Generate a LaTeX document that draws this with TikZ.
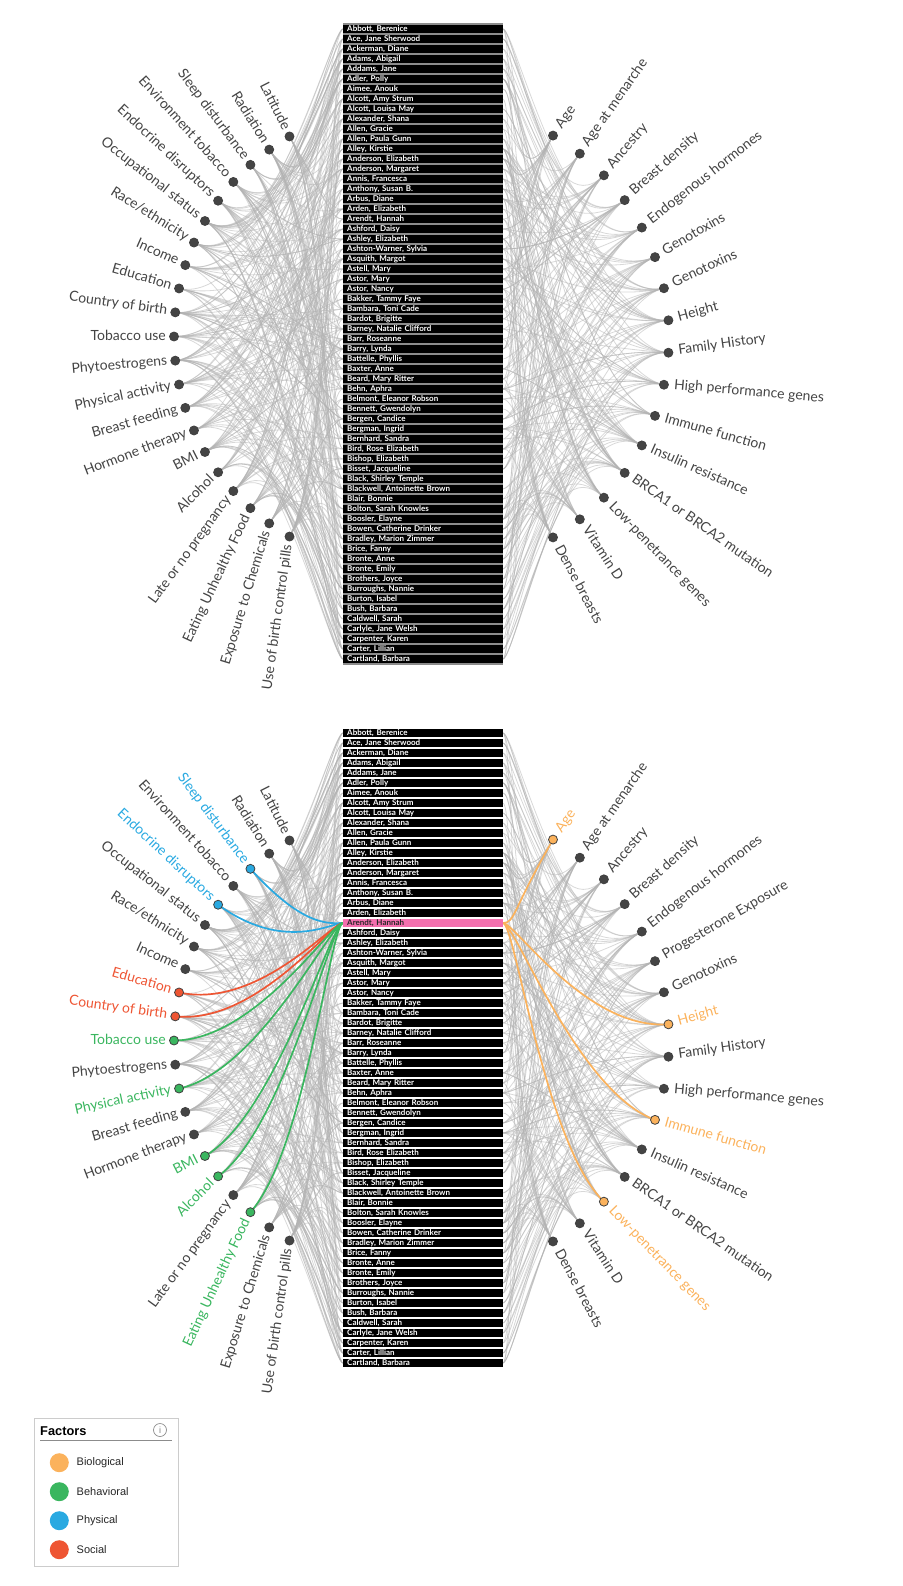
\documentclass[tikz,border=0pt]{standalone}
\usepackage{fontspec}
\setmainfont{Lato}
\newfontfamily\legfont{Liberation Sans}
\usetikzlibrary{calc}

\definecolor{bio}{HTML}{FBB25C}
\definecolor{beh}{HTML}{3AB65F}
\definecolor{phys}{HTML}{29A9E1}
\definecolor{soc}{HTML}{EE5533}
\definecolor{pinkrow}{HTML}{F46FAE}
\definecolor{fac}{HTML}{444444}

\tikzset{
  link/.style={draw=black!30, line width=0.8pt, opacity=0.5},
  hilink/.style={line width=1.7pt},
  namerow/.style={fill=black, text=white, anchor=west, inner xsep=4pt, inner ysep=0pt,
    minimum height=8.5pt, text width=152pt, align=left, text height=5.6pt, text depth=1.4pt,
    font=\bfseries\fontsize{8}{9}\selectfont},
  hirow/.style={fill=pinkrow, text=black!85},
  dot/.style={circle, draw=black!75, line width=0.8pt, inner sep=0pt, minimum size=9pt},
  flab/.style={inner sep=0pt, text height=10pt, text depth=3pt, font=\fontsize{14}{16}\selectfont},
}

\def\namelist{{Abbott, Berenice},{Ace, Jane Sherwood},{Ackerman, Diane},{Adams, Abigail},{Addams, Jane},{Adler, Polly},{Aimee, Anouk},{Alcott, Amy Strum},{Alcott, Louisa May},{Alexander, Shana},{Allen, Gracie},{Allen, Paula Gunn},{Alley, Kirstie},{Anderson, Elizabeth},{Anderson, Margaret},{Annis, Francesca},{Anthony, Susan B.},{Arbus, Diane},{Arden, Elizabeth},{Arendt, Hannah},{Ashford, Daisy},{Ashley, Elizabeth},{Ashton-Warner, Sylvia},{Asquith, Margot},{Astell, Mary},{Astor, Mary},{Astor, Nancy},{Bakker, Tammy Faye},{Bambara, Toni Cade},{Bardot, Brigitte},{Barney, Natalie Clifford},{Barr, Roseanne},{Barry, Lynda},{Battelle, Phyllis},{Baxter, Anne},{Beard, Mary Ritter},{Behn, Aphra},{Belmont, Eleanor Robson},{Bennett, Gwendolyn},{Bergen, Candice},{Bergman, Ingrid},{Bernhard, Sandra},{Bird, Rose Elizabeth},{Bishop, Elizabeth},{Bisset, Jacqueline},{Black, Shirley Temple},{Blackwell, Antoinette Brown},{Blair, Bonnie},{Bolton, Sarah Knowles},{Boosler, Elayne},{Bowen, Catherine Drinker},{Bradley, Marion Zimmer},{Brice, Fanny},{Bronte, Anne},{Bronte, Emily},{Brothers, Joyce},{Burroughs, Nannie},{Burton, Isabel},{Bush, Barbara},{Caldwell, Sarah},{Carlyle, Jane Welsh},{Carpenter, Karen},{Carter, Lillian},{Cartland, Barbara}}

\begin{document}
\begin{tikzpicture}[x=1pt,y=1pt]
\useasboundingbox (0,0) rectangle (902,-1586);

\foreach \p/\dy/\hl in {t/0/0,b/704/1}{
  % arc centres and row ends
  \coordinate (\p cl) at (405,-336.5-\dy);
  \coordinate (\p cr) at (437,-336.5-\dy);
  \foreach \rr in {1,...,64}{
    \coordinate (\p ra\rr) at (343,-19-10*\rr-\dy);
    \coordinate (\p rb\rr) at (503,-19-10*\rr-\dy);
  }
  \foreach \i in {0,...,20} \coordinate (\p f\i) at ($(\p cl)+(120+6*\i:231)$);
  \foreach \j in {0,...,15} \coordinate (\p g\j) at ($(\p cr)+(60-8*\j:232)$);

  % grey links
  \pgfmathsetseed{4242}
  \foreach \i in {0,...,20}{
    \pgfmathrandominteger{\nk}{11}{20}
    \foreach \k in {1,...,\nk}{
      \pgfmathrandominteger{\rw}{1}{64}
      \draw[link] (\p f\i) .. controls ($(\p cl)+(120+6*\i:150)$) and ($(\p ra\rw)+(-12,0)$) .. (\p ra\rw);
    }
  }
  \foreach \j in {0,...,15}{
    \pgfmathrandominteger{\nk}{11}{20}
    \foreach \k in {1,...,\nk}{
      \pgfmathrandominteger{\rw}{1}{64}
      \draw[link] (\p g\j) .. controls ($(\p cr)+(60-8*\j:150)$) and ($(\p rb\rw)+(12,0)$) .. (\p rb\rw);
    }
  }

  % links of the selected name
  \ifnum\hl=1
    \foreach \i/\c in {2/phys,4/phys,8/soc,9/soc,10/beh,12/beh,15/beh,16/beh,18/beh}
      \draw[hilink,\c] (\p f\i) .. controls ($(\p cl)+(120+6*\i:150)$) and ($(\p ra20)+(-12,0)$) .. (\p ra20);
    \foreach \j in {0,7,10,13}
      \draw[hilink,bio] (\p g\j) .. controls ($(\p cr)+(60-8*\j:150)$) and ($(\p rb20)+(12,0)$) .. (\p rb20);
  \fi

  % name list
  \ifnum\hl=0 \fill[black!45] (343,-23.5-\dy) rectangle (503,-664.5-\dy); \fi
  \foreach \nm [count=\rr] in \namelist{
    \pgfmathtruncatemacro\pk{\hl*(\rr==20)}
    \ifnum\pk=1 \def\rs{hirow}\else\def\rs{}\fi
    \node[namerow,\rs] (\p r\rr) at (\p ra\rr) {\nm};
  }

  % left factors
  \foreach \lab/\rot/\hc [count=\i from 0] in {Latitude/-63/fac,Radiation/-58/fac,
      Sleep disturbance/-53/phys,Environment tobacco/-48/fac,Endocrine disruptors/-43/phys,
      Occupational status/-38/fac,{Race/ethnicity}/-32/fac,Income/-24/fac,Education/-16/soc,
      Country of birth/-8/soc,Tobacco use/0/beh,Phytoestrogens/5/fac,Physical activity/12/beh,
      Breast feeding/16/fac,Hormone therapy/21/fac,BMI/27/beh,Alcohol/45/beh,
      Late or no pregnancy/54/fac,Eating Unhealthy Food/65/beh,Exposure to Chemicals/73/fac,
      Use of birth control pills/82/fac}{
    \ifnum\hl=1 \let\cc\hc \else \def\cc{fac}\fi
    \node[dot, fill=\cc] (\p d\i) at (\p f\i) {};
    \node[flab, text=\cc, anchor=east, rotate=\rot] (\p l\i) at ($(\p f\i)+(\rot+180:8)$) {\lab};
  }

  % right factors
  \foreach \tl/\bl/\rot/\hc [count=\j from 0] in {Age/Age/54/bio,
      Age at menarche/Age at menarche/55/fac,Ancestry/Ancestry/50/fac,
      Breast density/Breast density/42/fac,Endogenous hormones/Endogenous hormones/38/fac,
      Genotoxins/Progesterone Exposure/30/fac,Genotoxins/Genotoxins/25/fac,
      Height/Height/15/bio,Family History/Family History/8/fac,
      High performance genes/High performance genes/-5/fac,
      Immune function/Immune function/-16/bio,Insulin resistance/Insulin resistance/-24/fac,
      BRCA1 or BRCA2 mutation/BRCA1 or BRCA2 mutation/-35/fac,
      Low-penetrance genes/Low-penetrance genes/-46/bio,Vitamin D/Vitamin D/-57/fac,
      Dense breasts/Dense breasts/-62/fac}{
    \ifnum\hl=1 \let\cc\hc \let\lab\bl \else \def\cc{fac}\let\lab\tl \fi
    \node[dot, fill=\cc] (\p e\j) at (\p g\j) {};
    \node[flab, text=\cc, anchor=west, rotate=\rot] (\p m\j) at ($(\p g\j)+(\rot:10)$) {\lab};
  }
}

% legend
\draw[black!20, line width=0.8pt] (34.5,-1418) rectangle (178,-1566);
\node[anchor=base west, inner sep=0pt, font=\legfont\bfseries\fontsize{12.8}{14}\selectfont] (legtitle) at (40,-1435) {Factors};
\node[circle, draw=black!45, line width=0.7pt, inner sep=0pt, minimum size=13pt, text=black!50,
  font=\legfont\fontsize{9}{10}\selectfont] (info) at (160,-1430) {i};
\draw[black!45, line width=0.8pt] (40,-1440.5) -- (172,-1440.5);
\foreach \c/\t [count=\k] in {bio/Biological,beh/Behavioral,phys/Physical,soc/Social}{
  \node[circle, fill=\c, inner sep=0pt, minimum size=19pt] (lg\k) at (59.3,-1433.7-29*\k) {};
  \node[anchor=west, inner sep=0pt, text=black!85, font=\legfont\fontsize{11}{13}\selectfont] (lt\k) at (76.5,-1433.7-29*\k) {\t};
}
\end{tikzpicture}
\end{document}
